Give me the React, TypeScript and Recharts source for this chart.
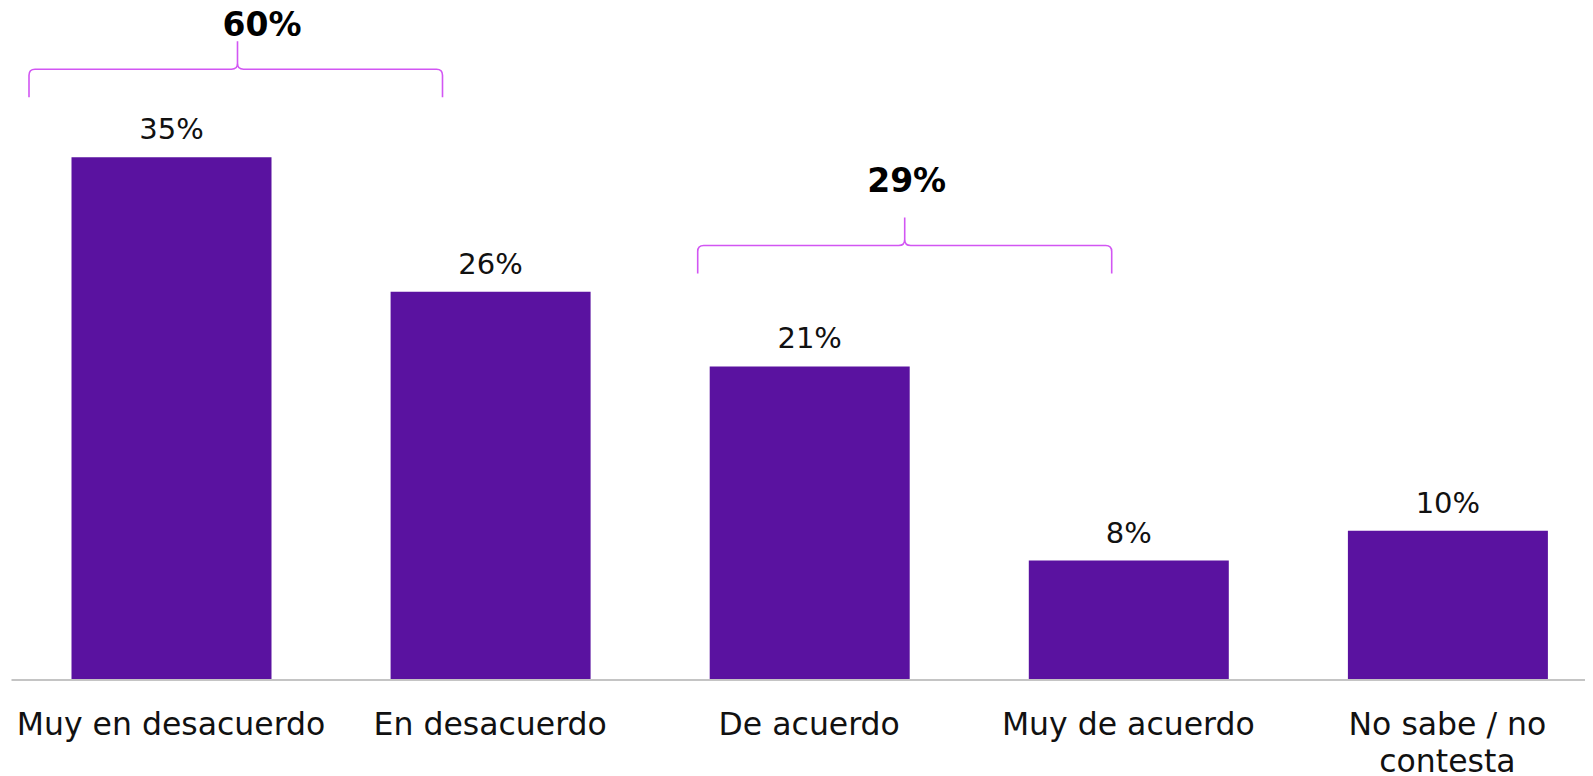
import React from 'react';
import { BarChart, Bar, XAxis, YAxis, LabelList } from 'recharts';

const categories = ['Muy en desacuerdo', 'En desacuerdo', 'De acuerdo', 'Muy de acuerdo', 'No sabe / no contesta'];
const values = [35, 26, 21, 8, 10];
const valueLabels = ['35%', '26%', '21%', '8%', '10%'];
const groupLabels = ['60%', '29%'];
const groupStart = [0, 2];

const data = categories.map((name, i) => ({ name, value: values[i], label: valueLabels[i] }));

const BAR_COLOR = '#5a12a0';
const BRACKET_COLOR = '#d256f3';
const FONT = '"DejaVu Sans", sans-serif';

// where each bracket sits, offsets in px from the left edge of the group's first bar
const bracketLayout = [
  { level: 40.9, left: -42.5, right: 371, tip: 166, text: 190.6, textLift: 45 },
  { level: 29.1, left: -12, right: 402, tip: 195, text: 197, textLift: 65.5 },
];

const wrap = (s: string, max: number) => {
  const lines: string[] = [];
  let cur = '';
  s.split(' ').forEach((w) => {
    const next = cur ? cur + ' ' + w : w;
    if (next.length > max && cur) {
      lines.push(cur);
      cur = w;
    } else cur = next;
  });
  if (cur) lines.push(cur);
  return lines;
};

const CategoryTick = (props: any) => {
  const { x, y, payload } = props;
  const lines = wrap(String(payload.value), 17);
  return (
    <text x={x} y={y} textAnchor="middle" fill="#111" fontSize={31.5} fontFamily={FONT}>
      {lines.map((l, i) => (
        <tspan key={i} x={x} y={y + 55 + i * 37}>{l}</tspan>
      ))}
    </text>
  );
};

const Bracket = (props: any) => {
  const { index } = props;
  const g = groupStart.indexOf(index);
  if (g < 0) return null;
  const vb = props.viewBox || props;
  const x = Number(vb.x);
  const y = Number(vb.y);
  const h = Number(vb.height);
  const base = y + h;
  const pxPer = h / values[index];
  const lay = bracketLayout[g];
  const T = base - lay.level * pxPer;
  const L = x + lay.left;
  const R = x + lay.right;
  const C = x + lay.tip;
  const B = T + 28;
  const P = T - 28;
  const r = 6;
  const d =
    `M${L},${B} L${L},${T + r} Q${L},${T} ${L + r},${T} L${C - r},${T} Q${C},${T} ${C},${T - r} L${C},${P} ` +
    `M${C},${T - r} Q${C},${T} ${C + r},${T} L${R - r},${T} Q${R},${T} ${R},${T + r} L${R},${B}`;
  return (
    <g>
      <path d={d} fill="none" stroke={BRACKET_COLOR} strokeWidth={1.6} />
      <text
        x={x + lay.text}
        y={T - lay.textLift + 12}
        textAnchor="middle"
        fill="#000"
        fontSize={33}
        fontWeight={700}
        fontFamily={FONT}
      >
        {groupLabels[g]}
      </text>
    </g>
  );
};

export default function App() {
  return (
    <div style={{ width: 1585, height: 768, overflow: 'hidden', background: '#fff' }}>
      <BarChart width={1599} height={768} data={data} margin={{ top: 0, right: 0, left: 3.5, bottom: 0 }}>
        <YAxis hide domain={[0, 45]} />
        <XAxis
          dataKey="name"
          height={96}
          interval={0}
          tickLine={false}
          tickSize={0}
          tickMargin={0}
          axisLine={{ stroke: '#c4c4c4', strokeWidth: 2 }}
          tick={<CategoryTick />}
        />
        <Bar dataKey="value" fill={BAR_COLOR} barSize={200} isAnimationActive={false}>
          <LabelList
            dataKey="label"
            position="top"
            offset={18}
            fill="#111"
            fontSize={29}
            fontFamily={FONT}
          />
          <LabelList dataKey="label" content={<Bracket />} />
        </Bar>
      </BarChart>
    </div>
  );
}
